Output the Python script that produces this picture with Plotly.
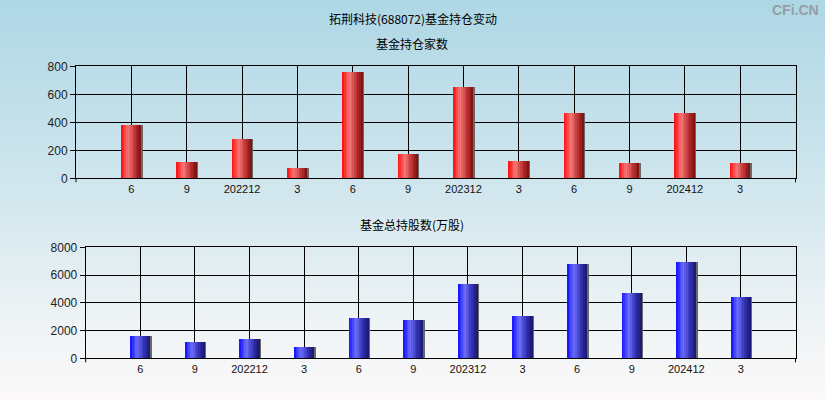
import base64
import plotly.graph_objects as go

# ---- data ----
periods = ["6", "9", "202212", "3", "6", "9", "202312", "3", "6", "9", "202412", "3"]
fund_counts = [381, 117, 281, 74, 760, 174, 652, 124, 467, 110, 467, 110]
fund_shares = [1610, 1129, 1393, 817, 2907, 2763, 5357, 3051, 6799, 4709, 6943, 4420]

main_title = "拓荆科技(688072)基金持仓变动"
sub_title1 = "基金持仓家数"
sub_title2 = "基金总持股数(万股)"

xpos = list(range(1, len(periods) + 1))

W, H = 825, 400

# gradient background via svg data uri
svg = f'''<svg xmlns="http://www.w3.org/2000/svg" width="{W}" height="{H}">
<defs><linearGradient id="g" x1="0" y1="0" x2="0" y2="1">
<stop offset="0" stop-color="#AED7E5"/>
<stop offset="0.5" stop-color="#D3E7EE"/>
<stop offset="0.8" stop-color="#EEF3F5"/>
<stop offset="1" stop-color="#FCF9F9"/>
</linearGradient></defs>
<rect width="{W}" height="{H}" fill="url(#g)"/></svg>'''
bg_uri = "data:image/svg+xml;base64," + base64.b64encode(svg.encode()).decode()


def lerp(c1, c2, t):
    return tuple(round(a + (b - a) * t) for a, b in zip(c1, c2))


def grad_color(stops, t):
    for (t0, c0), (t1, c1) in zip(stops, stops[1:]):
        if t <= t1:
            return lerp(c0, c1, (t - t0) / (t1 - t0))
    return stops[-1][1]


red_stops = [(0.0, (255, 10, 10)), (0.35, (245, 120, 120)), (0.7, (190, 50, 50)), (1.0, (120, 15, 15))]
blue_stops = [(0.0, (15, 15, 255)), (0.35, (110, 110, 250)), (0.7, (50, 50, 180)), (1.0, (25, 25, 110))]

fig = go.Figure()

BW = 0.36
NS = 12


def add_bars(values, stops, xa, ya):
    # shadow
    fig.add_trace(go.Bar(x=xpos, y=values, width=BW, offset=-BW / 2 + 0.025,
                         marker=dict(color="rgb(105,105,105)", line=dict(width=0)),
                         xaxis=xa, yaxis=ya, hoverinfo="skip", showlegend=False))
    sw = BW / NS
    for i in range(NS):
        c = grad_color(stops, (i + 0.5) / NS)
        fig.add_trace(go.Bar(x=xpos, y=values, width=sw * 1.15 if i < NS - 1 else sw,
                             offset=-BW / 2 + i * sw,
                             marker=dict(color=f"rgb{c}", line=dict(width=0)),
                             xaxis=xa, yaxis=ya, showlegend=False,
                             hoverinfo="y" if i == 0 else "skip"))


add_bars(fund_counts, red_stops, "x", "y")
add_bars(fund_shares, blue_stops, "x2", "y2")

tickfont_x = dict(family="Liberation Sans, Arial", size=11, color="#111")
tickfont_y = dict(family="Liberation Sans, Arial", size=12, color="#222")

xcommon = dict(range=[0, 13], tickvals=xpos, ticktext=periods, showgrid=True,
               gridcolor="black", gridwidth=1, showline=True, linecolor="black",
               linewidth=1, mirror=True, ticks="", tickfont=tickfont_x,
               zeroline=False, fixedrange=True)

fig.update_layout(
    width=W, height=H,
    margin=dict(l=0, r=0, t=0, b=0, pad=0, autoexpand=False),
    showlegend=False,
    paper_bgcolor="#D3E7EE",
    plot_bgcolor="rgba(0,0,0,0)",
    barmode="overlay",
    bargap=0,
    xaxis=dict(domain=[76 / W, 795.5 / W], anchor="y", **xcommon),
    yaxis=dict(domain=[1 - 178.3 / H, 1 - 66.3 / H], anchor="x", range=[0, 800], dtick=200,
               showgrid=True, gridcolor="black", gridwidth=1, showline=True,
               linecolor="black", mirror=True, ticks="outside", ticklen=5,
               tickcolor="black", tickfont=tickfont_y, zeroline=False, fixedrange=True),
    xaxis2=dict(domain=[85.7 / W, 795.5 / W], anchor="y2", **xcommon),
    yaxis2=dict(domain=[1 - 358.3 / H, 1 - 247.3 / H], anchor="x2", range=[0, 8000], dtick=2000,
                showgrid=True, gridcolor="black", gridwidth=1, showline=True,
                linecolor="black", mirror=True, ticks="outside", ticklen=5,
                tickcolor="black", tickfont=tickfont_y, zeroline=False, fixedrange=True),
    images=[dict(source=bg_uri, xref="paper", yref="paper", x=0, y=1, sizex=1, sizey=1,
                 sizing="stretch", layer="below", xanchor="left", yanchor="top")],
    annotations=[
        dict(text=main_title, x=413 / W, y=1 - 18 / H, xref="paper", yref="paper",
             xanchor="center", yanchor="middle",
             showarrow=False, font=dict(family="Noto Sans CJK SC", size=12, color="#000")),
        dict(text=sub_title1, x=412 / W, y=1 - 43 / H, xref="paper", yref="paper",
             xanchor="center", yanchor="middle",
             showarrow=False, font=dict(family="Noto Sans CJK SC", size=12, color="#000")),
        dict(text=sub_title2, x=412 / W, y=1 - 224 / H, xref="paper", yref="paper",
             xanchor="center", yanchor="middle",
             showarrow=False, font=dict(family="Noto Sans CJK SC", size=12, color="#000")),
        dict(text="<b>CFi.CN</b>", x=821 / W, y=1 - 10 / H, xref="paper", yref="paper",
             xanchor="right", yanchor="middle", showarrow=False,
             font=dict(family="Liberation Sans Narrow, Arial Narrow, Liberation Sans", size=14,
                       color="rgb(150,158,165)")),
    ],
)

# small edge ticks below each x axis (as in the original)
for xd, ybot in [((76 / W, 795.5 / W), 178.3), ((85.7 / W, 795.5 / W), 358.3)]:
    for xx in xd:
        fig.add_shape(type="line", xref="paper", yref="paper", x0=xx, x1=xx,
                      y0=1 - ybot / H, y1=1 - (ybot + 4) / H, line=dict(color="black", width=1))

fig.write_html("out.html", config={"displayModeBar": False, "staticPlot": False},
               post_script="document.body.style.margin='0';document.body.style.padding='0';"
                           "document.body.style.overflow='hidden';")
